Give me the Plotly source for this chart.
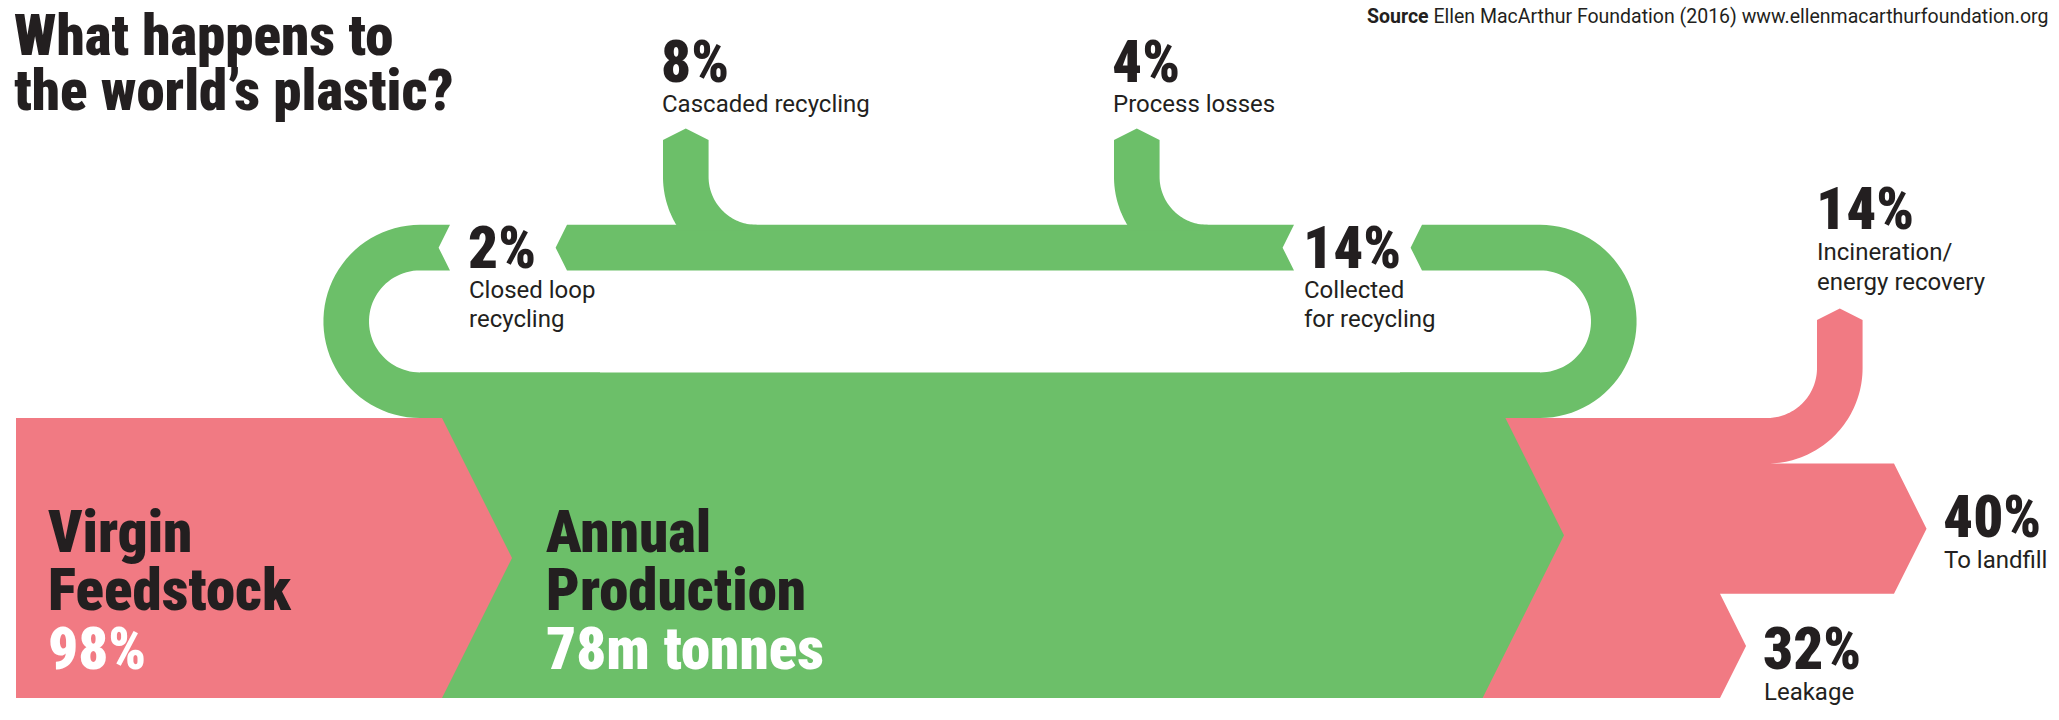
import numpy as np
import plotly.graph_objects as go

# ------------------------------------------------------------------ data
title_lines = ["What happens to", "the world’s plastic?"]
source_bold = "Source"
source_text = "Ellen MacArthur Foundation (2016) www.ellenmacarthurfoundation.org"

virgin_label = ["Virgin", "Feedstock"]
virgin_share = 98                      # % of annual production
production_label = ["Annual", "Production"]
production_value = "78m tonnes"

# recycling loop (green): collected, cascaded, process losses, closed loop
loop_labels = [["Collected", "for recycling"], ["Cascaded recycling"],
               ["Process losses"], ["Closed loop", "recycling"]]
loop_values = [14, 8, 4, 2]

# outputs (pink): incineration, landfill, leakage
output_labels = [["Incineration/", "energy recovery"], ["To landfill"], ["Leakage"]]
output_values = [14, 40, 32]

# ------------------------------------------------------------------ style / layout
W, H = 2059, 720
PINK = "#F17A83"
GREEN = "#6CBF69"
INK = "#231F20"
BIG_FONT = "Roboto Condensed, Open Sans Condensed, DejaVu Sans Condensed, sans-serif"
SMALL_FONT = "Roboto, Liberation Sans, sans-serif"

BLOCK_TOP, BLOCK_BOT = 418.0, 698.0
block_h = BLOCK_BOT - BLOCK_TOP
unit = block_h / sum(output_values)           # px per percentage point
band_w = loop_values[0] * unit                # width of the loop band
K = 0.5                                       # chevron slope (dx per dy)
R_IN = 51.0                                   # inner radius of the loop bends
R_BR = 48.0                                   # inner radius of the branch bends

LEFT_X = 16.0
VIRGIN_RIGHT = 442.0
RING_LX, RING_RX = 420.0, 1540.0
OUT_TIP_X = 1564.0


def arc(cx, cy, r, a0, a1, n=48):
    t = np.radians(np.linspace(a0, a1, n))
    return list(zip(cx + r * np.cos(t), cy + r * np.sin(t)))


def path(points):
    return "M " + " L ".join(f"{x:.2f},{y:.2f}" for x, y in points) + " Z"


shapes = []


def poly(points, color):
    shapes.append(dict(type="path", path=path(points), xref="x", yref="y",
                       fillcolor=color, line=dict(width=0), layer="above"))


# ---- loop geometry
ring_cy = BLOCK_TOP - band_w - R_IN
ring_top = ring_cy - R_IN - band_w
ring_bot = ring_cy - R_IN
ring_mid = (ring_top + ring_bot) / 2
notch = band_w / 2 * K
R_OUT = R_IN + band_w
inner_low = BLOCK_TOP - band_w

# main green block (annual production)
poly([(RING_LX, inner_low), (RING_RX, inner_low), (RING_RX, BLOCK_TOP),
      (OUT_TIP_X + 20, BLOCK_TOP), (OUT_TIP_X + 20, BLOCK_BOT),
      (VIRGIN_RIGHT - 10, BLOCK_BOT), (VIRGIN_RIGHT - 10, BLOCK_TOP),
      (RING_LX, BLOCK_TOP)], GREEN)

# left bend piece (closed loop returning into production)
gap_l = (450.0, 567.0)
pts = [(gap_l[0], ring_top), (RING_LX, ring_top)]
pts += arc(RING_LX, ring_cy, R_OUT, 270, 90)
pts += [(RING_LX + 180, BLOCK_TOP), (RING_LX + 180, inner_low)]
pts += arc(RING_LX, ring_cy, R_IN, 90, 270)
pts += [(gap_l[0], ring_bot), (gap_l[0] - notch, ring_mid)]
poly(pts, GREEN)

# top band between the labels
gap_r = (1294.0, 1422.0)
poly([(gap_l[1], ring_top), (gap_r[0], ring_top), (gap_r[0] - notch, ring_mid),
      (gap_r[0], ring_bot), (gap_l[1], ring_bot), (gap_l[1] - notch, ring_mid)], GREEN)

# right bend piece (collected for recycling)
pts = [(gap_r[1] - notch, ring_mid), (gap_r[1], ring_top), (RING_RX, ring_top)]
pts += arc(RING_RX, ring_cy, R_OUT, -90, 90)
pts += [(RING_RX - 140, BLOCK_TOP), (RING_RX - 140, inner_low)]
pts += arc(RING_RX, ring_cy, R_IN, 90, -90)
pts += [(gap_r[1], ring_bot)]
poly(pts, GREEN)

# upward branches (cascaded recycling, process losses)
branch_left = [663.0, 1114.0]
shoulder_y = 140.0
for bx in branch_left:
    cx = bx + band_w + R_BR
    cy = ring_top - R_BR
    ro = R_BR + band_w
    a_end = 180 - np.degrees(np.arcsin(R_BR / ro))
    pts = [(cx + ro * np.cos(np.radians(a_end)), ring_top + 6)]
    pts += arc(cx, cy, ro, a_end, 180)
    pts += [(bx, shoulder_y), (bx + band_w / 2, shoulder_y - band_w / 2 * K),
            (bx + band_w, shoulder_y)]
    pts += arc(cx, cy, R_BR, 180, 90)
    pts += [(cx, ring_top + 6)]
    poly(pts, GREEN)

# virgin feedstock block (pink arrow)
mid_v = (BLOCK_TOP + BLOCK_BOT) / 2
poly([(LEFT_X, BLOCK_TOP), (VIRGIN_RIGHT, BLOCK_TOP),
      (VIRGIN_RIGHT + block_h / 2 * K, mid_v),
      (VIRGIN_RIGHT, BLOCK_BOT), (LEFT_X, BLOCK_BOT)], PINK)

# outputs block (pink)
out_mid = (inner_low + BLOCK_BOT) / 2
h_inc, h_land, h_leak = [v * unit for v in output_values]
y1 = BLOCK_TOP + h_inc
y2 = y1 + h_land
inc_x = 1817.0
r_pi = 50.0
pcx, pcy = inc_x - r_pi, BLOCK_TOP - r_pi
inc_shoulder = 320.0
land_right = 1894.0
leak_right = 1720.0
pts = [(OUT_TIP_X - (out_mid - BLOCK_TOP) * K, BLOCK_TOP), (pcx, BLOCK_TOP)]
pts += arc(pcx, pcy, r_pi, 90, 0)
pts += [(inc_x, inc_shoulder), (inc_x + h_inc / 2, inc_shoulder - h_inc / 2 * K),
        (inc_x + h_inc, inc_shoulder)]
pts += arc(pcx, pcy, r_pi + h_inc, 0, 90)
pts += [(land_right, y1), (land_right + h_land / 2 * K, (y1 + y2) / 2), (land_right, y2),
        (leak_right, y2), (leak_right + h_leak / 2 * K, (y2 + BLOCK_BOT) / 2),
        (leak_right, BLOCK_BOT),
        (OUT_TIP_X - (BLOCK_BOT - out_mid) * K, BLOCK_BOT), (OUT_TIP_X, out_mid)]
poly(pts, PINK)

# ------------------------------------------------------------------ text
ann = []


def label(x, y, text, size, color=INK, family=BIG_FONT, weight=900, anchor="left"):
    ann.append(dict(x=x, y=y, xref="x", yref="y", text=text,
                    showarrow=False, xanchor=anchor, yanchor="middle", borderpad=0,
                    font=dict(family=family, size=size, color=color, weight=weight)))


BIG = 59
SMALL = 24
# title
label(LEFT_X - 3, 35, title_lines[0], 57)
label(LEFT_X - 3, 90, title_lines[1], 57)
# source
ann.append(dict(x=2049, y=16.5, xref="x", yref="y", showarrow=False, xanchor="right",
                yanchor="middle", borderpad=0,
                text=f"<b>{source_bold}</b> {source_text}",
                font=dict(family=SMALL_FONT, size=19.5, color=INK)))


def pct(v):
    return f"{v}%"


# loop labels
loop_pos = [(1305, 247), (663, 61), (1114, 61), (470, 247)]
for (x, y), v, lines in zip(loop_pos, loop_values, loop_labels):
    label(x - 3, y, pct(v), BIG)
    for i, ln in enumerate(lines):
        label(x - 2, y + 43 + 29 * i, ln, SMALL, family=SMALL_FONT, weight=400)

# output labels
out_pos = [(1818, 208.5), (1945, 516.5), (1765, 648.5)]
for (x, y), v, lines in zip(out_pos, output_values, output_labels):
    label(x - 3, y, pct(v), BIG)
    for i, ln in enumerate(lines):
        label(x - 2, y + 43 + 30 * i, ln, SMALL, family=SMALL_FONT, weight=400)

# block labels
label(47, 531.5, virgin_label[0], BIG)
label(47, 589.5, virgin_label[1], BIG)
label(47, 648.5, pct(virgin_share), BIG, color="white")
label(545, 531.5, production_label[0], BIG)
label(545, 589.5, production_label[1], BIG)
label(545, 648.5, production_value, BIG, color="white")

fig = go.Figure()
fig.add_trace(go.Scatter(x=[0, W], y=[0, H], mode="markers",
                         marker=dict(opacity=0), hoverinfo="skip", showlegend=False))
fig.update_layout(width=W, height=H, margin=dict(l=0, r=0, t=0, b=0),
                  paper_bgcolor="white", plot_bgcolor="white",
                  shapes=shapes, annotations=ann, showlegend=False)
fig.update_xaxes(range=[0, W], visible=False, fixedrange=True)
fig.update_yaxes(range=[H, 0], visible=False, fixedrange=True)
fig.write_html("out.html", config={"displayModeBar": False})
